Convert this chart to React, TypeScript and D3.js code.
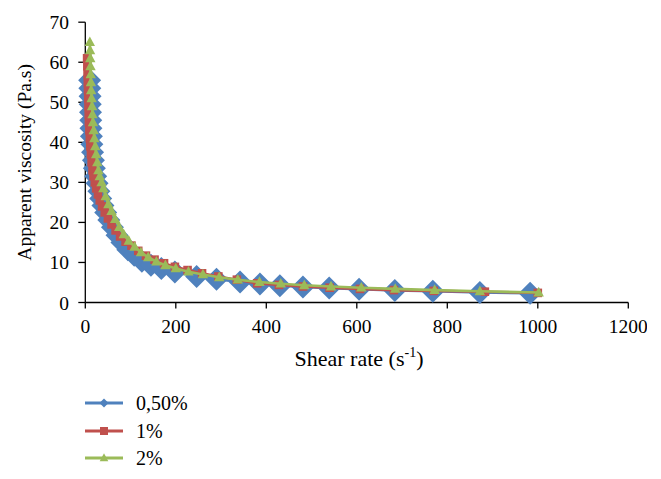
import React from "react";
import * as d3 from "d3";

const xTicks = [0, 200, 400, 600, 800, 1000, 1200];
const yTicks = [0, 10, 20, 30, 40, 50, 60, 70];
const seriesNames = ["0,50%", "1%", "2%"];
const seriesColors = ["#4F81BD", "#C0504D", "#9BBB59"];

const shearBlue = [9.5, 10, 10.5, 11, 11.5, 12, 12.5, 13.5, 14.5, 16, 18, 20, 23, 26, 30, 34, 39, 45, 52, 60, 70, 81, 94, 108, 125, 145, 168, 198, 246, 290, 342, 386, 430, 481, 539, 605, 684, 768, 872, 983];
const viscBlue = [55.5, 53.5, 51.5, 49.5, 47.5, 45.5, 43.5, 41.5, 39.5, 37.5, 35.5, 33.5, 31.5, 29.8, 27.8, 26, 24.2, 22.5, 20.6, 18.8, 16.8, 15, 13.2, 11.8, 10.3, 9.3, 8.5, 7.6, 6.5, 5.8, 5.1, 4.6, 4.2, 3.9, 3.6, 3.3, 3.0, 2.8, 2.5, 2.3];

const shearRed = [4, 4.5, 5, 5.5, 6, 6.5, 7, 7.5, 8, 9, 10, 11, 12.5, 14, 16, 18, 21, 24, 28, 32, 37, 43, 50, 58, 67, 77, 89, 102, 117, 134, 153, 174, 198, 226, 258, 294, 335, 380, 428, 481, 540, 607, 682, 770, 883, 1000];
const viscRed = [61, 59, 57, 55, 53, 51, 49, 47, 45, 43, 41, 39, 37, 35, 33, 31.5, 30, 28.5, 27, 25.5, 24, 22.5, 21, 19.5, 18, 16.5, 15.2, 14.2, 12.9, 11.7, 10.7, 9.8, 8.9, 8.1, 7.3, 6.5, 5.7, 4.8, 4.4, 4.0, 3.7, 3.4, 3.1, 2.9, 2.7, 2.4];

const shearGreen = [10, 10.5, 11, 11.5, 12, 12.5, 13, 14, 15, 16, 17, 18.5, 20, 22, 24, 26.5, 29, 32, 36, 40, 45, 51, 58, 66, 75, 85, 96, 109, 123, 139, 157, 177, 200, 228, 260, 296, 337, 385, 432, 484, 543, 610, 685, 772, 872, 1002];
const viscGreen = [65, 63, 61, 59, 57, 55, 53, 51, 49, 47, 45, 43, 41, 39, 37, 35, 33, 31.5, 30, 28.5, 26.5, 24.5, 22.8, 20.8, 18.8, 17, 15.4, 13.9, 12.5, 11.3, 10.2, 9.3, 8.5, 7.7, 7.0, 6.3, 5.7, 5.1, 4.7, 4.3, 4.0, 3.7, 3.4, 3.1, 2.8, 2.5];

const W = 661;
const H = 479;
const FONT = '"Liberation Serif", "DejaVu Serif", "Times New Roman", serif';
const txt = { fontFamily: FONT };

function diamond(r: number) {
  return `M0,${-r}L${r},0L0,${r}L${-r},0Z`;
}
function square(r: number) {
  return `M${-r},${-r}L${r},${-r}L${r},${r}L${-r},${r}Z`;
}
function triangle(r: number) {
  return `M0,${-r * 1.1}L${r},${r * 0.75}L${-r},${r * 0.75}Z`;
}

export default function App() {
  const x = d3.scaleLinear().domain([0, 1200]).range([85.3, 628.3]);
  const y = d3.scaleLinear().domain([0, 70]).range([302.5, 22.2]);

  const series = [
    { xs: shearBlue, ys: viscBlue, marker: diamond(11.5), legendMarker: diamond(4.5) },
    { xs: shearRed, ys: viscRed, marker: square(4.3), legendMarker: square(4) },
    { xs: shearGreen, ys: viscGreen, marker: triangle(5.2), legendMarker: triangle(4.3) },
  ];

  const line = d3
    .line<[number, number]>()
    .x((d) => x(d[0]))
    .y((d) => y(d[1]));

  const legendY = [403, 431, 458];

  return (
    <svg
      width={W}
      height={H}
      style={{ position: "absolute", left: 0, top: 0, background: "#fff" }}
    >
      <defs>
        <clipPath id="clipAll">
          <rect x={0} y={0} width={647} height={H} />
        </clipPath>
      </defs>
      <rect x={0} y={0} width={W} height={H} fill="#fff" />
      <g clipPath="url(#clipAll)">
        {/* axes */}
        <line x1={x(0)} x2={x(0)} y1={y(70)} y2={y(0)} stroke="#000" strokeWidth={1.3} />
        <line x1={x(0)} x2={x(1200)} y1={y(0)} y2={y(0)} stroke="#000" strokeWidth={1.3} />
        {yTicks.map((t) => (
          <g key={"yt" + t}>
            <line x1={x(0) - 7} x2={x(0)} y1={y(t)} y2={y(t)} stroke="#000" strokeWidth={1.3} />
            <text x={69} y={y(t) + 7} textAnchor="end" fontSize={19.5} fill="#000" style={txt}>
              {t}
            </text>
          </g>
        ))}
        {xTicks.map((t) => (
          <g key={"xt" + t}>
            <line x1={x(t)} x2={x(t)} y1={y(0)} y2={y(0) + 6} stroke="#000" strokeWidth={1.3} />
            <text x={x(t)} y={333} textAnchor="middle" fontSize={19.5} fill="#000" style={txt}>
              {t}
            </text>
          </g>
        ))}
        {/* axis titles */}
        <text
          transform={`translate(31, ${(y(0) + y(70)) / 2}) rotate(-90)`}
          textAnchor="middle"
          fontSize={19.5}
          fill="#000"
          style={txt}
        >
          Apparent viscosity (Pa.s)
        </text>
        <text x={359} y={366} textAnchor="middle" fontSize={22} fill="#000" style={txt}>
          Shear rate (s
          <tspan fontSize={14} dy={-9}>-1</tspan>
          <tspan dy={9}>)</tspan>
        </text>

        {/* series */}
        {series.map((s, i) => {
          const pts: [number, number][] = s.xs.map((v, j) => [v, s.ys[j]]);
          return (
            <g key={"s" + i}>
              <path d={line(pts) || ""} fill="none" stroke={seriesColors[i]} strokeWidth={2.6} />
              {pts.map((p, j) => (
                <path
                  key={j}
                  d={s.marker}
                  transform={`translate(${x(p[0])},${y(p[1])})`}
                  fill={seriesColors[i]}
                />
              ))}
            </g>
          );
        })}

        {/* legend */}
        {seriesNames.map((name, i) => (
          <g key={"lg" + i} transform={`translate(0, ${legendY[i]})`}>
            <line x1={85} x2={123} y1={0} y2={0} stroke={seriesColors[i]} strokeWidth={3} />
            <path d={series[i].legendMarker} transform="translate(104,0)" fill={seriesColors[i]} />
            <text x={136} y={7} fontSize={20} fill="#000" style={txt}>
              {name}
            </text>
          </g>
        ))}
      </g>
    </svg>
  );
}
